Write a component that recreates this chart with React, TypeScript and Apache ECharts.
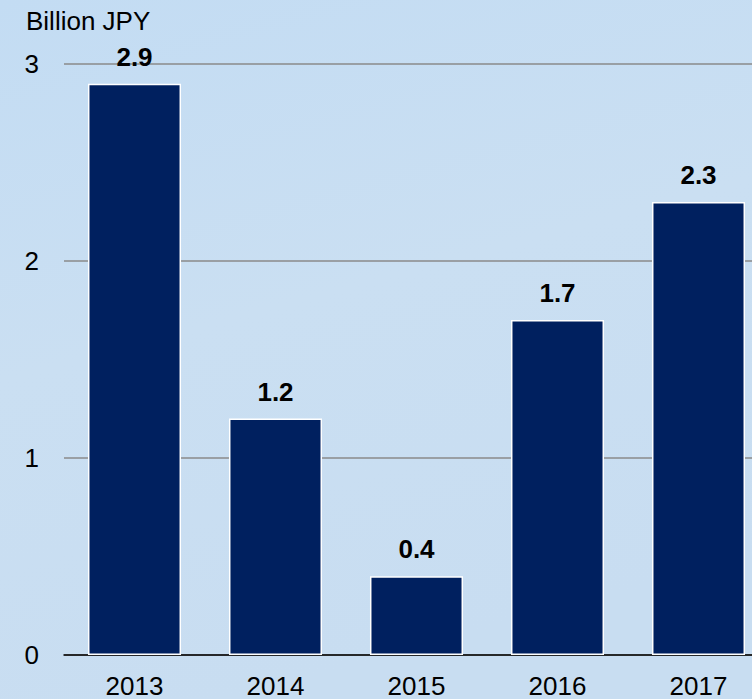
import React, { useEffect, useRef } from "react";
import * as echarts from "echarts";

const categories = ["2013", "2014", "2015", "2016", "2017"];
const values = [2.9, 1.2, 0.4, 1.7, 2.3];
const yTicks = [0, 1, 2, 3];

export default function App() {
  const ref = useRef<HTMLDivElement>(null);
  useEffect(() => {
    const chart = echarts.init(ref.current!, null, { renderer: "svg" });
    chart.setOption({
      animation: false,
      backgroundColor: {
        type: "linear",
        x: 0,
        y: 0,
        x2: 0.3,
        y2: 1,
        colorStops: [
          { offset: 0, color: "#c3dcf3" },
          { offset: 0.5, color: "#cadff2" },
          { offset: 1, color: "#c8ddf1" },
        ],
      },
      textStyle: { fontFamily: "Liberation Sans, Arial, sans-serif" },
      graphic: [
        {
          type: "text",
          left: 26,
          top: 8,
          style: {
            text: "Billion JPY",
            fontSize: 26,
            fill: "#000",
            fontFamily: "Liberation Sans, Arial, sans-serif",
          },
        },
      ],
      grid: { left: 64, right: 11, top: 64, bottom: 44, containLabel: false },
      xAxis: {
        type: "category",
        data: categories,
        axisLine: { lineStyle: { color: "#000", width: 1.5 } },
        axisTick: { show: false },
        axisLabel: { fontSize: 26, lineHeight: 20, color: "#000", margin: 21 },
      },
      yAxis: {
        type: "value",
        min: yTicks[0],
        max: yTicks[yTicks.length - 1],
        interval: 1,
        axisLine: { show: false },
        axisTick: { show: false },
        axisLabel: { fontSize: 26, color: "#000", margin: 25 },
        splitLine: { lineStyle: { color: "#8a8a8a", width: 1.5 } },
      },
      series: [
        {
          type: "bar",
          data: values,
          barWidth: "66%",
          itemStyle: { color: "#00205f", borderColor: "#ffffff", borderWidth: 1.5 },
          label: {
            show: true,
            position: "top",
            distance: 14,
            fontSize: 26,
            fontWeight: "bold",
            color: "#000",
          },
        },
      ],
    });
    return () => chart.dispose();
  }, []);
  return (
    <div
      ref={ref}
      style={{ position: "fixed", left: 0, top: 0, width: 780, height: 699 }}
    />
  );
}
